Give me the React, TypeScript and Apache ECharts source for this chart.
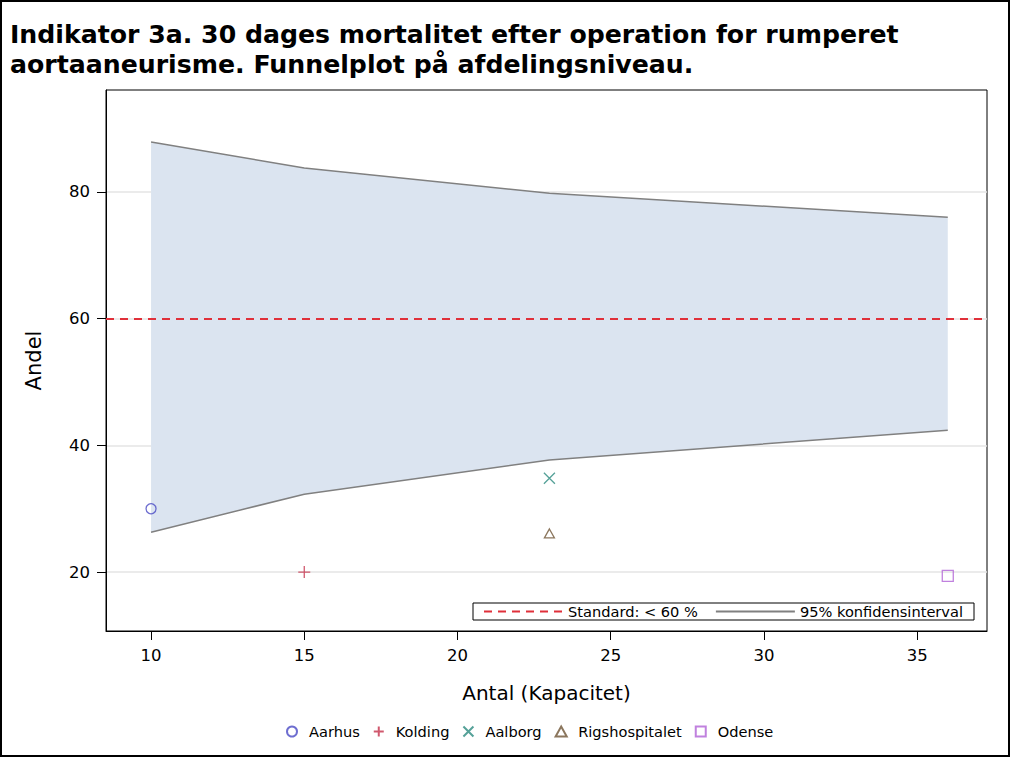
import React, { useEffect, useRef } from "react";
import * as echarts from "echarts";

const bandX = [10, 15, 23, 36];
const bandUpper = [87.9, 83.8, 79.8, 76.0];
const bandLower = [26.3, 32.3, 37.7, 42.4];
const hospitals = ["Aarhus", "Kolding", "Aalborg", "Rigshospitalet", "Odense"];
const hospitalX = [10, 15, 23, 23, 36];
const hospitalY = [30.0, 20.0, 34.8, 26.1, 19.4];
const hospitalColors = ["#4a4ac4", "#c4304a", "#2a8a7e", "#6e5434", "#b062d6"];
const hospitalSymbols = [
  "circle",
  "path://M5,0L5,10M0,5L10,5",
  "path://M0,0L10,10M10,0L0,10",
  "path://M5,0L10,9L0,9Z",
  "path://M0,0L10,0L10,10L0,10Z",
];
const hospitalSizes = [10, 12, 11, 10, 11];
const standardValue = 60;
const xTicks = [10, 15, 20, 25, 30, 35];
const yTicks = [20, 40, 60, 80];
const standardName = "Standard: < 60 %";
const ciName = "95% konfidensinterval";

const FONT = "DejaVu Sans";

export default function App() {
  const ref = useRef<HTMLDivElement>(null);
  useEffect(() => {
    if (!ref.current) return;
    const chart = echarts.init(ref.current, undefined, { renderer: "svg" });
    const bandData = bandX.map((x, i) => [x, bandLower[i], bandUpper[i]]);
    const option: any = {
      animation: false,
      backgroundColor: "#fff",
      textStyle: { fontFamily: FONT, color: "#000" },
      title: {
        text: "Indikator 3a. 30 dages mortalitet efter operation for rumperet\naortaaneurisme. Funnelplot på afdelingsniveau.",
        left: 10,
        top: 19,
        padding: 0,
        textStyle: {
          fontFamily: FONT,
          fontWeight: "bold",
          fontSize: 25.2,
          lineHeight: 30,
          color: "#000",
        },
      },
      graphic: [
        {
          type: "rect",
          shape: { x: 1, y: 1, width: 1008, height: 755 },
          style: { fill: "none", stroke: "#000", lineWidth: 2 },
          silent: true,
        },
      ],
      grid: {
        left: 106,
        top: 90,
        width: 881,
        height: 541,
        show: true,
        borderColor: "#000",
        borderWidth: 1,
        backgroundColor: "transparent",
      },
      xAxis: {
        type: "value",
        min: 8.53,
        max: 37.28,
        name: "Antal (Kapacitet)",
        nameLocation: "middle",
        nameGap: 52,
        nameTextStyle: { fontSize: 20, fontFamily: FONT, color: "#000" },
        axisLine: { show: true, onZero: false, lineStyle: { color: "#000", width: 1 } },
        axisTick: { show: true, length: 9, customValues: xTicks, lineStyle: { color: "#000" } },
        axisLabel: { customValues: xTicks, fontSize: 16.5, color: "#000", margin: 16, fontFamily: FONT },
        splitLine: { show: false },
      },
      yAxis: {
        type: "value",
        min: 10.7,
        max: 96.1,
        name: "Andel",
        nameLocation: "middle",
        nameGap: 62,
        nameRotate: 90,
        nameTextStyle: { fontSize: 21, fontFamily: FONT, color: "#000" },
        axisLine: { show: true, onZero: false, lineStyle: { color: "#000", width: 1 } },
        axisTick: { show: true, length: 9, customValues: yTicks, lineStyle: { color: "#000" } },
        axisLabel: { customValues: yTicks, fontSize: 16.5, color: "#000", margin: 16, fontFamily: FONT },
        splitLine: { show: true, lineStyle: { color: "#e4e4e4", width: 1.5 } },
      },
      legend: [
        {
          data: [standardName, ciName],
          left: 473,
          top: 603,
          orient: "horizontal",
          borderColor: "#000",
          borderWidth: 1,
          padding: [1, 11, 1, 10],
          itemWidth: 79,
          itemHeight: 10,
          itemGap: 17,
          itemStyle: { opacity: 0 },
          textStyle: { fontSize: 14.6, color: "#000", fontFamily: FONT },
          selectedMode: false,
        },
        {
          data: hospitals,
          left: 286,
          top: 724,
          padding: 0,
          itemWidth: 24,
          itemHeight: 10,
          itemGap: 13,
          textStyle: { fontSize: 14.6, color: "#000", fontFamily: FONT },
          selectedMode: false,
        },
      ],
      series: [
        {
          type: "custom",
          name: "band",
          silent: true,
          z: 1,
          encode: { x: 0, y: [1, 2] },
          data: bandData,
          renderItem: (params: any, api: any) => {
            if (params.dataIndex !== 0) return null;
            const upper = bandData.map((d) => api.coord([d[0], d[2]]));
            const lower = bandData.map((d) => api.coord([d[0], d[1]])).reverse();
            return {
              type: "polygon",
              shape: { points: upper.concat(lower) },
              style: { fill: "#dbe4f0", stroke: "none" },
            };
          },
        },
        {
          type: "line",
          name: ciName,
          data: bandX.map((x, i) => [x, bandUpper[i]]),
          symbol: "none",
          color: "#808080",
          lineStyle: { color: "#808080", width: 1.5 },
          z: 3,
          silent: true,
        },
        {
          type: "line",
          name: ciName,
          data: bandX.map((x, i) => [x, bandLower[i]]),
          symbol: "none",
          color: "#808080",
          lineStyle: { color: "#808080", width: 1.5 },
          z: 3,
          silent: true,
        },
        {
          type: "line",
          name: standardName,
          data: [],
          symbol: "none",
          color: "#e0303a",
          lineStyle: { color: "#e0303a", width: 2, type: [8, 6] },
          z: 4,
          markLine: {
            silent: true,
            symbol: "none",
            label: { show: false },
            lineStyle: { color: "#e0303a", width: 1.8, type: [8, 6] },
            data: [{ yAxis: standardValue }],
          },
        },
        ...hospitals.map((h, i) => ({
          type: "scatter",
          name: h,
          data: [[hospitalX[i], hospitalY[i]]],
          symbol: hospitalSymbols[i],
          symbolSize: hospitalSizes[i],
          symbolKeepAspect: true,
          z: 5,
          itemStyle: {
            color: "rgba(255,255,255,0)",
            borderColor: hospitalColors[i],
            borderWidth: 1.3,
          },
        })),
      ],
    };
    chart.setOption(option);
    return () => chart.dispose();
  }, []);
  return (
    <div
      ref={ref}
      style={{ position: "fixed", left: 0, top: 0, width: 1011, height: 758 }}
    />
  );
}
